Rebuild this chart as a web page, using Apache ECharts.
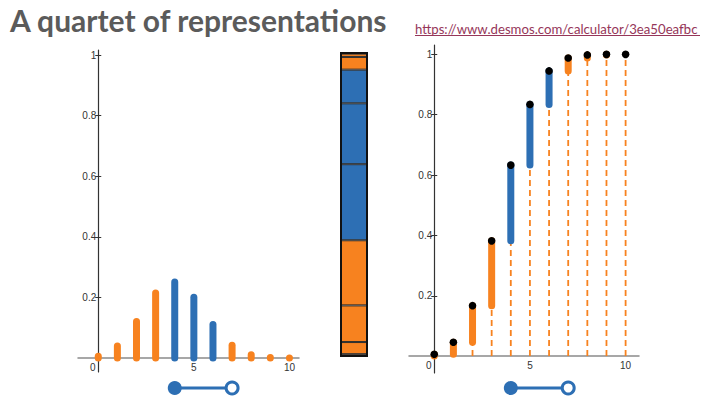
<!DOCTYPE html>
<html>
<head>
<meta charset="utf-8">
<script src="https://cdn.jsdelivr.net/npm/echarts@6/dist/echarts.min.js"></script>
<style>
html,body{margin:0;padding:0;background:#fff;}
#chart{width:710px;height:409px;}
</style>
</head>
<body>
<div id="chart"></div>
<script>
// ---- data ----
var titleText = 'A quartet of representations';
var linkText = 'https://www.desmos.com/calculator/3ea50eafbc';
var ks = [0, 1, 2, 3, 4, 5, 6, 7, 8, 9, 10];
var pmf = [0.006, 0.040, 0.121, 0.215, 0.251, 0.201, 0.111, 0.042, 0.011, 0.002, 0.0001];
var cdf = [0.006, 0.046, 0.167, 0.382, 0.633, 0.834, 0.945, 0.988, 0.998, 1.0, 1.0];
var sliderLow = 4;   // filled end (included)
var sliderHigh = 7;  // hollow end (excluded)
var yTicks = [0.2, 0.4, 0.6, 0.8, 1];
var xTicks = [0, 5, 10];

// ---- layout / styles ----
var ORANGE = '#f7821f';
var BLUE = '#2d6fb4';
function colorFor(k) { return (k >= sliderLow && k < sliderHigh) ? BLUE : ORANGE; }

var L = {left: 78, top: 50, width: 221, height: 322, xmin: -1.06, xmax: 10.5, ymin: -0.046, ymax: 1.017};
var R = {left: 409, top: 45, width: 230, height: 328, xmin: -1.32, xmax: 10.7, ymin: -0.056, ymax: 1.031};
function zeroOffX(g) { return (0 - g.xmin) / (g.xmax - g.xmin) * g.width; }
function zeroOffY(g) { return (0 - g.ymin) / (g.ymax - g.ymin) * g.height; }

var chart = echarts.init(document.getElementById('chart'), null, {renderer: 'svg'});

function xLabelFmt(v) { return v === 0 ? '{z|0}' : String(v); }

function mainXAxis(gi, g) {
  return {
    type: 'value', gridIndex: gi, min: g.xmin, max: g.xmax, position: 'bottom',
    offset: -zeroOffY(g),
    splitLine: {show: false},
    axisLine: {onZero: false, lineStyle: {color: '#8a8a8a', width: 1.5}},
    axisTick: {show: false},
    axisLabel: {
      customValues: xTicks, formatter: xLabelFmt, color: '#333', fontSize: 10,
      fontFamily: 'Liberation Sans', margin: 4,
      rich: {z: {padding: [0, 11, 0, 0], color: '#333', fontSize: 10, fontFamily: 'Liberation Sans'}}
    }
  };
}
function mainYAxis(gi, g) {
  return {
    type: 'value', gridIndex: gi, min: g.ymin, max: g.ymax, position: 'left',
    offset: -zeroOffX(g),
    splitLine: {show: false},
    axisLine: {onZero: false, lineStyle: {color: '#333', width: 1.2}},
    axisTick: {customValues: yTicks, length: 3, lineStyle: {color: '#333'}},
    axisLabel: {customValues: yTicks, color: '#333', fontSize: 10, fontFamily: 'Liberation Sans', margin: 2,
      formatter: function (v) { return String(v); }}
  };
}
function tickYAxis(gi, g) {
  return {
    type: 'value', gridIndex: gi, min: g.ymin, max: g.ymax, position: 'left',
    offset: -zeroOffX(g),
    splitLine: {show: false},
    axisLine: {show: false, onZero: false},
    axisTick: {customValues: yTicks, inside: true, length: 3, lineStyle: {color: '#333'}},
    axisLabel: {show: false}
  };
}

// left chart: vertical rounded bars (pmf)
var pmfSeries = {
  type: 'custom', xAxisIndex: 0, yAxisIndex: 0, clip: false,
  data: ks.map(function (k, i) { return [k, pmf[i]]; }),
  renderItem: function (params, api) {
    var k = api.value(0), v = api.value(1);
    var a = api.coord([k, 0]), b = api.coord([k, v]);
    return {
      type: 'line',
      shape: {x1: a[0], y1: a[1], x2: b[0], y2: b[1]},
      style: {stroke: colorFor(k), lineWidth: 7, lineCap: 'round'}
    };
  }
};

// middle: stacked bar of pmf
var stackSeries = ks.map(function (k, i) {
  return {
    type: 'bar', xAxisIndex: 1, yAxisIndex: 1, stack: 'all', barWidth: '100%',
    data: [pmf[i]],
    itemStyle: {color: colorFor(k), borderColor: '#2a2a2a', borderWidth: 1},
    emphasis: {disabled: true}
  };
});

// right chart: cdf steps
var cdfSeries = {
  type: 'custom', xAxisIndex: 2, yAxisIndex: 2, clip: false,
  data: ks.map(function (k, i) { return [k, i === 0 ? 0 : cdf[i - 1], cdf[i]]; }),
  renderItem: function (params, api) {
    var k = api.value(0), lo = api.value(1), hi = api.value(2);
    var z = api.coord([k, 0]), a = api.coord([k, lo]), b = api.coord([k, hi]);
    return {
      type: 'group',
      children: [
        {type: 'line', shape: {x1: z[0], y1: z[1], x2: b[0], y2: b[1]},
          style: {stroke: ORANGE, lineWidth: 1.8, lineDash: [6, 4]}},
        {type: 'line', shape: {x1: a[0], y1: a[1], x2: b[0], y2: b[1]},
          style: {stroke: colorFor(k), lineWidth: 7, lineCap: 'round'}},
        {type: 'circle', shape: {cx: b[0], cy: b[1], r: 3.8}, style: {fill: '#000'}}
      ]
    };
  }
};

function sliderSeries(xi, yi) {
  return {
    type: 'line', xAxisIndex: xi, yAxisIndex: yi, symbol: 'circle',
    lineStyle: {color: BLUE, width: 3}, silent: true,
    data: [
      {value: [sliderLow, 0], symbolSize: 14, itemStyle: {color: BLUE, borderColor: BLUE, borderWidth: 0}},
      {value: [sliderHigh, 0], symbolSize: 12, itemStyle: {color: '#fff', borderColor: BLUE, borderWidth: 3}}
    ]
  };
}

var option = {
  animation: false,
  backgroundColor: '#fff',
  title: [
    {text: titleText, left: 10, top: 5, padding: 0,
      textStyle: {fontSize: 30, fontWeight: 'bold', color: '#5b5b5b', fontFamily: 'Lato'}},
    {text: linkText, left: 415, top: 22, padding: 0,
      textStyle: {fontSize: 13.2, fontWeight: 'normal', color: '#963659', fontFamily: 'Lato'}}
  ],
  graphic: [
    {type: 'rect', shape: {x: 415, y: 35, width: 285, height: 1}, style: {fill: '#963659'}, silent: true}
  ],
  grid: [
    {left: L.left, top: L.top, width: L.width, height: L.height},
    {left: 341, top: 53, width: 26, height: 303, show: true, borderColor: '#111', borderWidth: 2, backgroundColor: 'transparent', z: 5},
    {left: R.left, top: R.top, width: R.width, height: R.height},
    {left: L.left, top: 378, width: L.width, height: 20},
    {left: R.left, top: 378, width: R.width, height: 20}
  ],
  xAxis: [
    mainXAxis(0, L),
    {type: 'category', gridIndex: 1, data: [''], show: false},
    mainXAxis(2, R),
    {type: 'value', gridIndex: 3, min: L.xmin, max: L.xmax, show: false},
    {type: 'value', gridIndex: 4, min: R.xmin, max: R.xmax, show: false}
  ],
  yAxis: [
    mainYAxis(0, L),
    {type: 'value', gridIndex: 1, min: 0, max: 1, show: false},
    mainYAxis(2, R),
    {type: 'value', gridIndex: 3, min: -1, max: 1, show: false},
    {type: 'value', gridIndex: 4, min: -1, max: 1, show: false},
    tickYAxis(0, L),
    tickYAxis(2, R)
  ],
  series: [pmfSeries].concat(stackSeries).concat([cdfSeries, sliderSeries(3, 3), sliderSeries(4, 4)])
};
chart.setOption(option);
</script>
</body>
</html>
